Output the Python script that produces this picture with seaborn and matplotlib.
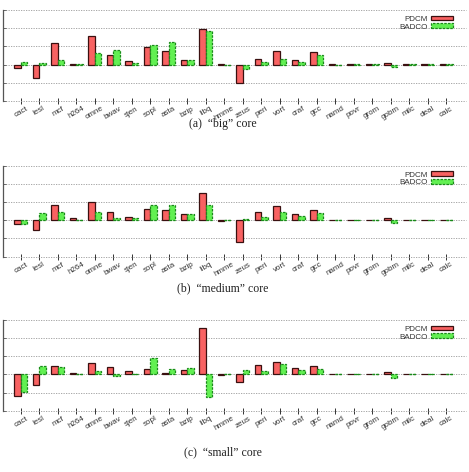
import matplotlib
matplotlib.use("Agg")
import matplotlib.pyplot as plt
import seaborn as sns
import pandas as pd
from matplotlib.patches import Patch

benchmarks = ["cact", "lesl", "mcf", "h264", "omne", "bwav", "sjen", "sopl", "asta", "bzip",
              "libq", "hmme", "zeus", "peri", "vort", "craf", "gcc", "namd", "povr", "grom",
              "gobm", "milc", "deal", "calc"]

big_pdcm = [-0.20, -0.72, 1.19, 0.02, 1.57, 0.52, 0.19, 0.98, 0.74, 0.24,
            1.96, 0.03, -1.00, 0.30, 0.74, 0.24, 0.67, 0.01, 0.01, 0.01,
            0.09, 0.01, 0.02, 0.04]
big_badco = [0.13, 0.09, 0.24, 0.03, 0.61, 0.78, 0.07, 1.07, 1.22, 0.28,
             1.83, 0.00, -0.22, 0.17, 0.30, 0.17, 0.52, 0.00, 0.01, 0.01,
             -0.13, 0.01, 0.01, 0.01]

medium_pdcm = [-0.22, -0.51, 0.84, 0.15, 1.00, 0.48, 0.20, 0.64, 0.57, 0.33,
               1.49, -0.06, -1.21, 0.44, 0.79, 0.35, 0.57, 0.01, 0.01, 0.01,
               0.13, 0.01, 0.01, 0.03]
medium_badco = [-0.18, 0.39, 0.46, 0.02, 0.46, 0.13, 0.11, 0.84, 0.84, 0.35,
                0.84, 0.02, 0.09, 0.17, 0.46, 0.24, 0.39, 0.01, 0.01, 0.01,
                -0.13, 0.01, 0.01, 0.01]

small_pdcm = [-1.19, -0.57, 0.44, 0.06, 0.63, 0.39, 0.20, 0.28, 0.07, 0.24,
              2.57, -0.04, -0.44, 0.50, 0.69, 0.37, 0.48, 0.01, 0.01, 0.01,
              0.11, 0.01, 0.02, 0.03]
small_badco = [-0.98, 0.48, 0.41, 0.02, 0.19, -0.09, 0.04, 0.89, 0.31, 0.35,
               -1.26, 0.04, 0.22, 0.17, 0.59, 0.22, 0.31, 0.01, 0.01, 0.01,
               -0.20, 0.01, 0.01, 0.01]

series_names = ["PDCM", "BADCO"]
captions = ["(a)  \u201cbig\u201d core", "(b)  \u201cmedium\u201d core", "(c)  \u201csmall\u201d core"]
y_ticks = [-2, -1, 0, 1, 2, 3]

panels = [(big_pdcm, big_badco), (medium_pdcm, medium_badco), (small_pdcm, small_badco)]

sns.set_theme(style="white")
plt.rcParams["font.family"] = ["Liberation Sans", "DejaVu Sans"]

red_fill, red_edge = "#f86262", "#3a1010"
green_fill, green_edge = "#62f052", "#1a8a1a"

W, H = 469, 472
fig = plt.figure(figsize=(W / 100, H / 100), dpi=100)

# (top, bottom) in pixels for each axes
boxes = [(10, 101), (165.7, 256.7), (320, 410.7)]
caption_y = [124, 288, 452.5]
left_px, right_px = 3, 466

for k, ((pd_vals, bd_vals), (top, bot)) in enumerate(zip(panels, boxes)):
    ax = fig.add_axes([left_px / W, 1 - bot / H, (right_px - left_px) / W, (bot - top) / H])
    df = pd.DataFrame({
        "bench": benchmarks * 2,
        "value": list(pd_vals) + list(bd_vals),
        "model": [series_names[0]] * len(benchmarks) + [series_names[1]] * len(benchmarks),
    })
    sns.barplot(data=df, x="bench", y="value", hue="model", order=benchmarks,
                hue_order=series_names, palette=[red_fill, green_fill], width=0.7,
                dodge=True, ax=ax, legend=False, linewidth=0.9, edgecolor=red_edge,
                saturation=1)
    for p in ax.containers[1]:
        p.set_edgecolor(green_edge)
        p.set_linestyle((0, (2, 1)))
    ax.set_xlim(-0.97, 24.08)
    ax.set_ylim(-2, 3)
    ax.set_yticks(y_ticks)
    ax.set_yticklabels([])
    ax.set_xlabel("")
    ax.set_ylabel("")
    ax.yaxis.grid(True, color="#999999", linestyle=(0, (1.5, 1.5)), linewidth=0.6)
    for gl in ax.yaxis.get_gridlines():
        gl.set_clip_on(False)
    ax.set_axisbelow(True)
    for s in ["top", "right", "bottom"]:
        ax.spines[s].set_visible(False)
    ax.spines["left"].set_color("#555555")
    ax.spines["left"].set_linewidth(0.9)
    ax.tick_params(axis="y", direction="in", length=2.5, width=0.6, color="#555555", left=True)
    ax.tick_params(axis="x", direction="inout", length=4, width=0.7, color="#333333", bottom=True,
                   labelsize=5.8, labelcolor="#333333", pad=1)
    plt.setp(ax.get_xticklabels(), rotation=30, ha="center")
    handles = [Patch(facecolor=red_fill, edgecolor=red_edge, linewidth=0.9),
               Patch(facecolor=green_fill, edgecolor=green_edge, linewidth=0.9, linestyle=(0, (2, 1)))]
    ax.legend(handles, series_names, loc="upper right", bbox_to_anchor=(0.985, 1.0),
              frameon=False, markerfirst=False, fontsize=5.8, handlelength=2.8,
              handleheight=0.55, labelspacing=0.05, handletextpad=0.4, borderpad=0.2,
              labelcolor="#333333")
    fig.text(0.475, 1 - caption_y[k] / H, captions[k], ha="center", va="center",
             fontsize=8.5, family=["Liberation Serif", "DejaVu Serif"], color="#222222")

fig.savefig("out.png", dpi=100)
